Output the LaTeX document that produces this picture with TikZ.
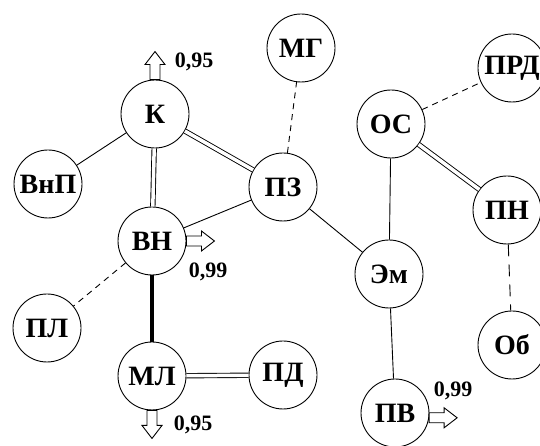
\documentclass[tikz,border=0pt]{standalone}
\usepackage{fontspec}
\setmainfont{Liberation Serif}

\tikzset{
  unit/.style={circle, draw, line width=0.9pt, minimum size=68pt, inner sep=0pt,
               font=\fontsize{28}{28}\selectfont\bfseries},
  prob/.style={inner sep=0pt, font=\fontsize{22}{22}\selectfont\bfseries},
  link/.style={line width=0.9pt},
  duallink/.style={line width=0.9pt, double, double distance=3.5pt},
  heavylink/.style={line width=3.5pt},
  weaklink/.style={line width=0.9pt, dash pattern=on 6pt off 5pt},
  outarrow/.pic={\draw[fill=white, line width=0.9pt] (0,-5) -- (15,-5) -- (15,-10)
                 -- (28,0) -- (15,10) -- (15,5) -- (0,5) -- cycle;}
}

\begin{document}
\begin{tikzpicture}[x=1pt, y=1pt]

\useasboundingbox (0,0) rectangle (540,446);

% Units
\node[unit] (K)   at (155,332) {К};
\node[unit] (VnP) at (48,262)  {ВнП};
\node[unit] (MG)  at (301,398) {МГ};
\node[unit] (PZ)  at (283,259) {ПЗ};
\node[unit] (OS)  at (391,322) {ОС};
\node[unit] (PRD) at (512,378) {ПРД};
\node[unit] (PN)  at (507,236) {ПН};
\node[unit] (VN)  at (152,205) {ВН};
\node[unit] (PL)  at (47,118)  {ПЛ};
\node[unit] (ML)  at (152,70)  {МЛ};
\node[unit] (PD)  at (283,71)  {ПД};
\node[unit] (Em)  at (389,172) {Эм};
\node[unit] (Ob)  at (512,101) {Об};
\node[unit] (PV)  at (395,33)  {ПВ};

% Links
\draw[link] (K) -- (VnP);
\draw[duallink] (K) -- (VN);
\draw[duallink] (K) -- (PZ);
\draw[link] (VN) -- (PZ);
\draw[weaklink] (VN) -- (PL);
\draw[heavylink] (VN) -- (ML);
\draw[duallink] (ML) -- (PD);
\draw[weaklink] (PZ) -- (MG);
\draw[link] (PZ) -- (Em);
\draw[link] (Em) -- (OS);
\draw[link] (Em) -- (PV);
\draw[weaklink] (OS) -- (PRD);
\draw[duallink] (OS) -- (PN);
\draw[line width=0.9pt, dash pattern=on 12pt off 8pt] (PN) -- (Ob);

% Outputs
\pic[rotate=90]  at (K.north)  {outarrow};
\pic             at (VN.east)  {outarrow};
\pic[rotate=-90] at (ML.south) {outarrow};
\pic             at (PV.-8)    {outarrow};

\node[prob] (pK)  at (194,384) {0,95};
\node[prob] (pVN) at (208,174) {0,99};
\node[prob] (pML) at (193,21)  {0,95};
\node[prob] (pPV) at (453,55)  {0,99};
\end{tikzpicture}
\end{document}
